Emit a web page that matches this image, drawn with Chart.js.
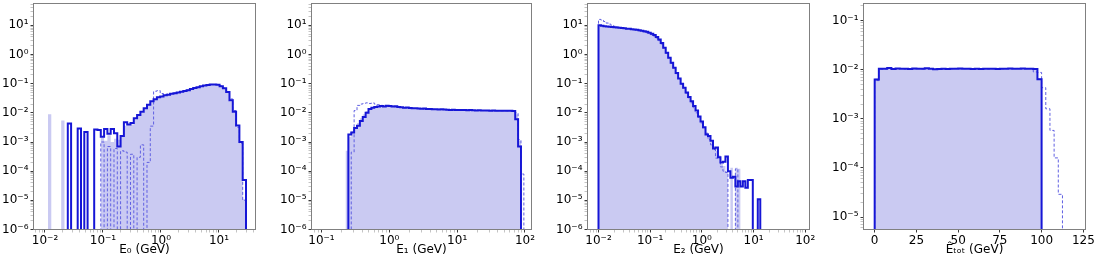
<!DOCTYPE html>
<html>
<head>
<meta charset="utf-8">
<script src="https://cdn.jsdelivr.net/npm/chart.js@4.4.1/dist/chart.umd.min.js"></script>
<style>
  html, body { margin: 0; padding: 0; background: #fff; }
  #wrap { position: relative; width: 1103px; height: 261px; overflow: hidden; }
  .panel { position: absolute; top: 0; height: 261px; }
</style>
</head>
<body>
<div id="wrap">
  <div class="panel" style="left:0px;width:270px"><canvas id="c0" width="270" height="261"></canvas></div>
  <div class="panel" style="left:272px;width:280px"><canvas id="c1" width="280" height="261"></canvas></div>
  <div class="panel" style="left:553px;width:272px"><canvas id="c2" width="272" height="261"></canvas></div>
  <div class="panel" style="left:826px;width:277px"><canvas id="c3" width="277" height="261"></canvas></div>
</div>
<script>
// Histogram binning: [lower edge, upper edge, number of bins]
const e0Bins = [0.01127, 29.24, 60];
const e1Bins = [0.226, 96.2, 62];
const e2Bins = [0.01, 13.5, 65];
const etotBins = [0, 112.5, 45];

// E0 histograms (filled, solid, dashed)
const e0Fill = [9.0e-3, 0, 0, 0, 5.5e-3, 0, 0, 0, 0, 0, 0, 0, 0, 0, 0, 0,
  1.4e-3, 1.1e-3, 1.7e-3, 1.0e-3, 1.3e-3, 1.2e-3, 1.5e-3, 3.6e-3, 4.2e-3, 4.0e-3,
  6.0e-3, 8.0e-3, 0.0100, 0.0135, 0.0185, 0.024, 0.029, 0.036, 0.038, 0.041,
  0.043, 0.046, 0.049, 0.051, 0.054, 0.057, 0.061, 0.067, 0.072, 0.077,
  0.082, 0.087, 0.091, 0.094, 0.095, 0.093, 0.083, 0.069, 0.050, 0.025,
  0.010, 3.2e-3, 9e-4, 1.1e-5];
const e0Line = [0, 0, 0, 0, 0, 0, 4.3e-3, 0, 0, 2.9e-3, 0, 2.2e-3, 0, 0, 2.7e-3, 2.6e-3,
  1.5e-3, 2.8e-3, 1.9e-3, 2.8e-3, 2.0e-3, 7e-4, 1.6e-3, 4.8e-3, 4.0e-3, 4.5e-3,
  6.5e-3, 8.5e-3, 0.0108, 0.0145, 0.019, 0.025, 0.029, 0.034, 0.036, 0.040,
  0.042, 0.045, 0.047, 0.050, 0.053, 0.056, 0.060, 0.066, 0.071, 0.076,
  0.081, 0.086, 0.090, 0.093, 0.094, 0.091, 0.082, 0.070, 0.052, 0.027,
  0.011, 3.7e-3, 1.0e-3, 5.0e-5];
const e0Dash = [0, 0, 0, 0, 0, 0, 0, 0, 0, 0, 0, 0, 0, 0, 0, 0,
  1.0e-3, 0, 7e-4, 0, 6e-4, 0, 5e-4, 4.5e-4, 0, 3.8e-4,
  0, 3.0e-4, 8e-4, 0, 2.0e-4, 3.5e-3, 0.055, 0.058, 0.046, 0.042,
  0.044, 0.046, 0.048, 0.051, 0.053, 0.057, 0.061, 0.066, 0.072, 0.077,
  0.082, 0.087, 0.091, 0.094, 0.095, 0.092, 0.084, 0.071, 0.053, 0.030,
  0.012, 3.2e-3, 9e-4, 1.0e-5];

// E1 histograms
const e1Fill = [5e-4, 1.5e-3, 2.4e-3, 3.0e-3, 4.5e-3, 6.5e-3, 9.0e-3, 0.0115, 0.0140, 0.0155,
  0.0163, 0.0170, 0.0168, 0.0172, 0.0170, 0.0166, 0.0165, 0.0162, 0.0158, 0.0152,
  0.0150, 0.0148, 0.0145, 0.0144, 0.0141, 0.0139, 0.0138, 0.0137, 0.0134, 0.0133,
  0.0132, 0.0131, 0.0131, 0.0130, 0.0128, 0.0127, 0.0126, 0.0126, 0.0125, 0.0124,
  0.0124, 0.0123, 0.0123, 0.0122, 0.0122, 0.0121, 0.0121, 0.0120, 0.0120, 0.0120,
  0.0119, 0.0119, 0.0118, 0.0118, 0.0118, 0.0117, 0.0117, 0.0116, 0.0115, 9.0e-3,
  1.1e-3, 0];
const e1Line = [0, 1.8e-3, 2.1e-3, 3.0e-3, 3.6e-3, 5.2e-3, 7.2e-3, 0.0100, 0.0135, 0.0150,
  0.0160, 0.0165, 0.0172, 0.0165, 0.0175, 0.0170, 0.0164, 0.0168, 0.0160, 0.0155,
  0.0150, 0.0153, 0.0146, 0.0143, 0.0145, 0.0140, 0.0137, 0.0140, 0.0135, 0.0136,
  0.0132, 0.0133, 0.0130, 0.0133, 0.0129, 0.0127, 0.0124, 0.0128, 0.0126, 0.0125,
  0.0126, 0.0124, 0.0123, 0.0124, 0.0122, 0.0121, 0.0123, 0.0121, 0.0120, 0.0121,
  0.0119, 0.0120, 0.0118, 0.0119, 0.0118, 0.0117, 0.0118, 0.0117, 0.0116, 6.0e-3,
  7.0e-4, 0];
const e1Dash = [0, 0, 4.5e-4, 0.012, 0.018, 0.020, 0.021, 0.022, 0.021, 0.022,
  0.020, 0.019, 0.018, 0.0175, 0.0170, 0.0168, 0.0165, 0.0160, 0.0157, 0.0153,
  0.0150, 0.0147, 0.0146, 0.0142, 0.0141, 0.0139, 0.0137, 0.0136, 0.0135, 0.0133,
  0.0132, 0.0131, 0.0130, 0.0129, 0.0129, 0.0127, 0.0126, 0.0125, 0.0125, 0.0124,
  0.0123, 0.0123, 0.0122, 0.0122, 0.0121, 0.0121, 0.0120, 0.0120, 0.0119, 0.0119,
  0.0119, 0.0118, 0.0118, 0.0118, 0.0117, 0.0117, 0.0116, 0.0116, 0.0115, 0.0100,
  1.2e-3, 8e-5];

// E2 histograms
const e2Fill = [10.2, 9.8, 9.4, 9.2, 9.0, 8.8, 8.6, 8.4, 8.2, 8.0,
  7.8, 7.7, 7.5, 7.3, 7.1, 6.9, 6.7, 6.4, 6.1, 5.8,
  5.4, 5.0, 4.5, 3.9, 3.2, 2.4, 1.65, 1.12, 0.76, 0.51,
  0.34, 0.225, 0.148, 0.099, 0.070, 0.048, 0.034, 0.024, 0.016, 0.011,
  7.2e-3, 4.8e-3, 3.0e-3, 1.9e-3, 1.5e-3, 1.0e-3, 7.0e-4, 5.0e-4, 3.5e-4, 1.8e-4,
  1.5e-4, 1.0e-4, 0, 1.3e-4, 0, 1.3e-4, 1.2e-4, 0, 0, 0,
  0, 0, 0, 0, 0];
const e2Line = [10.0, 9.6, 9.3, 9.1, 8.9, 8.8, 8.6, 8.4, 8.3, 8.1,
  7.9, 7.7, 7.6, 7.4, 7.2, 7.0, 6.8, 6.5, 6.3, 6.0,
  5.6, 5.2, 4.7, 4.0, 3.3, 2.5, 1.7, 1.15, 0.78, 0.52,
  0.35, 0.23, 0.15, 0.10, 0.072, 0.050, 0.035, 0.025, 0.017, 0.012,
  7.5e-3, 5.0e-3, 3.2e-3, 1.8e-3, 1.6e-3, 1.1e-3, 6.0e-4, 6.5e-4, 3.0e-4, 2.0e-4,
  2.1e-4, 3.2e-4, 1.0e-4, 6.0e-5, 6.5e-5, 3.0e-5, 4.5e-5, 3.0e-5, 4.5e-5, 2.7e-5,
  5.0e-5, 5.0e-5, 0, 0, 1.1e-5];
const e2Dash = [16, 15, 13.5, 12, 11, 10, 9.3, 8.8, 8.4, 8.1,
  7.8, 7.6, 7.4, 7.2, 7.0, 6.7, 6.5, 6.2, 5.9, 5.6,
  5.2, 4.8, 4.3, 3.7, 3.0, 2.3, 1.6, 1.1, 0.75, 0.50,
  0.34, 0.22, 0.145, 0.098, 0.068, 0.047, 0.032, 0.022, 0.015, 0.010,
  7.0e-3, 4.5e-3, 2.8e-3, 2.0e-3, 1.2e-3, 8.0e-4, 5.5e-4, 2.8e-4, 3.0e-4, 1.4e-4,
  1.0e-4, 9.0e-5, 0, 0, 0, 1.2e-4, 0, 0, 0, 0,
  0, 0, 0, 0, 0];

// E_tot histograms
const etotFill = [6.6e-3, 0.0103, 0.0104, 0.0106, 0.0104, 0.0105, 0.0105, 0.0104, 0.0104, 0.0105,
  0.0104, 0.0105, 0.0106, 0.0103, 0.0103, 0.0104, 0.0104, 0.0104, 0.0105, 0.0105,
  0.0105, 0.0104, 0.0105, 0.0104, 0.0104, 0.0104, 0.0103, 0.0104, 0.0105, 0.0104,
  0.0104, 0.0105, 0.0105, 0.0104, 0.0105, 0.0105, 0.0104, 0.0105, 0.0101, 6.8e-3,
  0, 0, 0, 0, 0];
const etotLine = [6.3e-3, 0.0104, 0.0105, 0.0108, 0.0103, 0.0106, 0.0104, 0.0105, 0.0103, 0.0106,
  0.0105, 0.0104, 0.0107, 0.0104, 0.0102, 0.0103, 0.0104, 0.0103, 0.0105, 0.0104,
  0.0106, 0.0105, 0.0104, 0.0103, 0.0104, 0.0103, 0.0104, 0.0105, 0.0104, 0.0103,
  0.0105, 0.0104, 0.0106, 0.0105, 0.0104, 0.0106, 0.0105, 0.0104, 0.0103, 6.4e-3,
  0, 0, 0, 0, 0];
const etotDash = [6.0e-3, 0.0102, 0.0104, 0.0106, 0.0105, 0.0104, 0.0106, 0.0103, 0.0105, 0.0104,
  0.0106, 0.0103, 0.0105, 0.0106, 0.0104, 0.0104, 0.0103, 0.0105, 0.0104, 0.0106,
  0.0104, 0.0105, 0.0106, 0.0104, 0.0103, 0.0105, 0.0104, 0.0103, 0.0105, 0.0106,
  0.0104, 0.0105, 0.0104, 0.0105, 0.0106, 0.0104, 0.0105, 0.0106, 9.0e-3, 8.8e-3,
  4.3e-3, 1.6e-3, 5.8e-4, 1.6e-4, 2.9e-5];

// Tick labels (powers of ten given as exponents) and axis titles
const e0XDecades = [-2, -1, 0, 1];
const e1XDecades = [-1, 0, 1, 2];
const e2XDecades = [-2, -1, 0, 1, 2];
const etotXTicks = [0, 25, 50, 75, 100, 125];
const eYDecades = [-6, -5, -4, -3, -2, -1, 0, 1];
const etotYDecades = [-5, -4, -3, -2, -1];
const xTitles = ['E₀ (GeV)', 'E₁ (GeV)', 'E₂ (GeV)', 'Êₜₒₜ (GeV)'];

const FILL = 'rgb(202, 202, 242)';
const SOLID = 'rgb(22, 22, 214)';
const DASH = 'rgb(96, 96, 226)';

Chart.defaults.font.family = 'DejaVu Sans';
Chart.defaults.font.size = 12;
Chart.defaults.color = '#000';

const SUP = { '-': '⁻', '0': '⁰', '1': '¹', '2': '²', '3': '³', '4': '⁴', '5': '⁵', '6': '⁶', '7': '⁷', '8': '⁸', '9': '⁹' };
function pow10Label(k) {
    return '10' + String(k).split('').map(c => SUP[c]).join('');
}

function logEdges(lo, hi, n) {
    const a = Math.log10(lo), b = Math.log10(hi);
    return Array.from({ length: n + 1 }, (_, i) => Math.pow(10, a + (b - a) * i / n));
}
function linEdges(lo, hi, n) {
    return Array.from({ length: n + 1 }, (_, i) => lo + (hi - lo) * i / n);
}

// major ticks at 10^k, minor ticks at m*10^k inside [min, max]
function logTickList(decades, min, max) {
    const out = [];
    for (let k = decades[0] - 1; k <= decades[decades.length - 1]; k++) {
        for (let m = 1; m <= 9; m++) {
            const v = m * Number('1e' + k);
            if (v >= min && v <= max) out.push({ value: v, major: m === 1 });
        }
    }
    return out;
}

// step outline of a histogram: left edge of each bin holds the bin value
function stepData(edges, vals, floor) {
    const pts = [{ x: edges[0], y: floor }];
    vals.forEach((v, i) => pts.push({ x: edges[i], y: v > 0 ? v : floor }));
    pts.push({ x: edges[vals.length], y: floor });
    return pts;
}

// axes box drawn on top of the data
const framePlugin = {
    id: 'frame',
    afterDatasetsDraw(chart) {
        const { ctx, chartArea: a } = chart;
        ctx.save();
        ctx.strokeStyle = '#808080';
        ctx.lineWidth = 1;
        ctx.strokeRect(a.left, a.top, a.right - a.left, a.bottom - a.top);
        ctx.restore();
    }
};

const gridOpts = {
    drawOnChartArea: false,
    drawTicks: true,
    tickLength: 3,
    color: c => (c.tick && c.tick.major) ? '#222' : '#888',
    lineWidth: c => (c.tick && c.tick.major) ? 0.9 : 0.5
};

const panels = [
    { id: 'c0', edges: logEdges(...e0Bins), fill: e0Fill, line: e0Line, dash: e0Dash,
      xType: 'logarithmic', xMin: Math.pow(10, -2.198), xMax: Math.pow(10, 1.63), xTicks: e0XDecades,
      yMin: 1e-6, yMax: Math.pow(10, 1.749), yTicks: eYDecades, title: xTitles[0], yWidth: 33.5, padRight: 14.5 },
    { id: 'c1', edges: logEdges(...e1Bins), fill: e1Fill, line: e1Line, dash: e1Dash,
      xType: 'logarithmic', xMin: Math.pow(10, -1.147), xMax: Math.pow(10, 2.096), xTicks: e1XDecades,
      yMin: 1e-6, yMax: Math.pow(10, 1.749), yTicks: eYDecades, title: xTitles[1], yWidth: 39.5, padRight: 20.5 },
    { id: 'c2', edges: logEdges(...e2Bins), fill: e2Fill, line: e2Line, dash: e2Dash,
      xType: 'logarithmic', xMin: Math.pow(10, -2.213), xMax: Math.pow(10, 2.083), xTicks: e2XDecades,
      yMin: 1e-6, yMax: Math.pow(10, 1.749), yTicks: eYDecades, title: xTitles[2], yWidth: 34.5, padRight: 15.5 },
    { id: 'c3', edges: linEdges(...etotBins), fill: etotFill, line: etotLine, dash: etotDash,
      xType: 'linear', xMin: -6.7, xMax: 126.3, xTicks: etotXTicks,
      yMin: Math.pow(10, -5.254), yMax: Math.pow(10, -0.652), yTicks: etotYDecades, title: xTitles[3], yWidth: 37.5, padRight: 17.5 }
];

panels.forEach(p => {
    const floor = p.yMin / 10;
    const isLogX = p.xType === 'logarithmic';
    const xTickList = isLogX
        ? logTickList(p.xTicks, p.xMin, p.xMax)
        : p.xTicks.map(v => ({ value: v, major: true }));
    const yTickList = logTickList(p.yTicks, p.yMin, p.yMax);

    new Chart(document.getElementById(p.id), {
        type: 'line',
        data: {
            datasets: [
                { data: stepData(p.edges, p.line, floor), stepped: 'before', borderColor: SOLID,
                  borderWidth: 2, pointRadius: 0, fill: false },
                { data: stepData(p.edges, p.dash, floor), stepped: 'before', borderColor: DASH,
                  borderWidth: 1, borderDash: [3, 2], pointRadius: 0, fill: false },
                { data: stepData(p.edges, p.fill, floor), stepped: 'before', borderColor: 'rgba(0,0,0,0)',
                  borderWidth: 0, backgroundColor: FILL, pointRadius: 0, fill: 'start' }
            ]
        },
        options: {
            responsive: false,
            animation: false,
            events: [],
            layout: { padding: { top: 3.5, right: p.padRight, bottom: 0, left: 0 } },
            plugins: { legend: { display: false }, tooltip: { enabled: false } },
            scales: {
                x: {
                    type: p.xType,
                    min: p.xMin,
                    max: p.xMax,
                    border: { display: false },
                    grid: gridOpts,
                    afterBuildTicks: s => { s.ticks = xTickList.map(t => ({ ...t })); },
                    afterFit: s => { s.height = 31.5; s.paddingLeft = 0; s.paddingRight = 0; },
                    ticks: {
                        autoSkip: false, maxRotation: 0, minRotation: 0, padding: 1, color: '#000',
                        font: { size: 12 },
                        callback: (v, i, ticks) => {
                            if (!ticks[i].major) return '';
                            return isLogX ? pow10Label(Math.round(Math.log10(v))) : String(v);
                        }
                    },
                    title: { display: true, text: p.title, color: '#000', font: { size: 12 }, padding: { top: 0, bottom: 4 } }
                },
                y: {
                    type: 'logarithmic',
                    min: p.yMin,
                    max: p.yMax,
                    border: { display: false },
                    grid: gridOpts,
                    afterBuildTicks: s => { s.ticks = yTickList.map(t => ({ ...t })); },
                    afterFit: s => { s.width = p.yWidth; s.paddingTop = 0; s.paddingBottom = 0; },
                    ticks: {
                        autoSkip: false, padding: 2, color: '#000', font: { size: 12 },
                        callback: (v, i, ticks) => ticks[i].major ? pow10Label(Math.round(Math.log10(v))) : ''
                    }
                }
            }
        },
        plugins: [framePlugin]
    });
});
</script>
</body>
</html>
